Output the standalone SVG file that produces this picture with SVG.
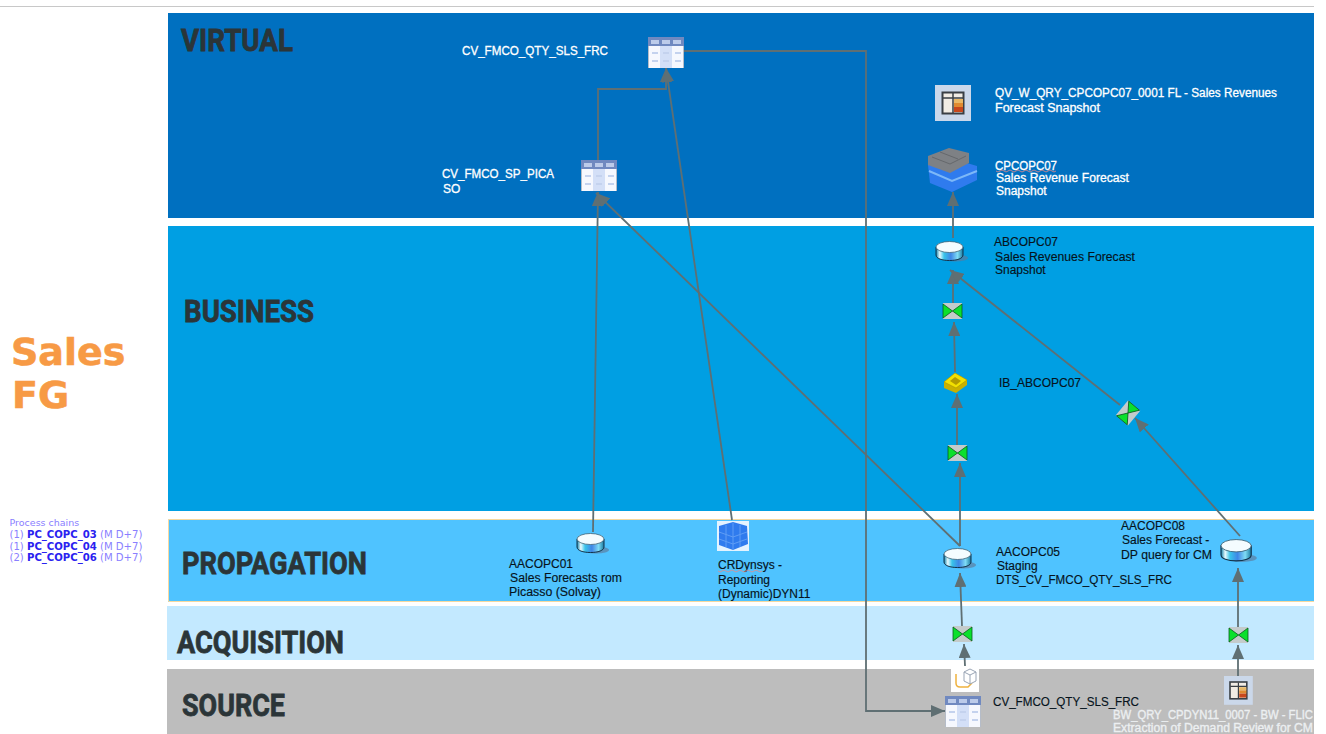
<svg xmlns="http://www.w3.org/2000/svg" width="1326" height="734" viewBox="0 0 1326 734">
<style>
text{font-family:"Liberation Sans",Arial,sans-serif}
.w{font-size:12px;fill:#fff;stroke:#fff;stroke-width:.3}
.k{font-size:12px;fill:#06131c;stroke:#06131c;stroke-width:.15}
.s{font-size:12px;fill:#eceff1;stroke:#eceff1;stroke-width:.35}
.h{font-size:32px;font-weight:700;fill:#2b3538;font-family:"Roboto","Liberation Sans",sans-serif;stroke:#2b3538;stroke-width:.8}
.t{font-family:"DejaVu Sans",sans-serif;font-size:38px;font-weight:700;fill:#f79a45;stroke:#f79a45;stroke-width:.6}
.c{fill:none;stroke:#5f6f73;stroke-width:1.8}
.v{font-family:"DejaVu Sans",sans-serif;font-size:10.1px;fill:#8a80ff}
.b{font-weight:700;fill:#2a22f0}
.sq{fill:none;stroke:#e58a8a;stroke-width:.8}
</style>
<defs>
<marker id="a" viewBox="0 0 14 12" refX="14" refY="6" markerWidth="14" markerHeight="12" markerUnits="userSpaceOnUse" orient="auto"><path d="M0 0L14 6L0 12Z" fill="#5f6f73"/></marker>
<linearGradient id="cg" x1="0" x2="1" y1="0" y2="0"><stop offset="0" stop-color="#0e7fa8"/><stop offset=".14" stop-color="#e8fbff"/><stop offset=".3" stop-color="#38c4ea"/><stop offset=".55" stop-color="#3f86e6"/><stop offset=".8" stop-color="#7fdcf5"/><stop offset="1" stop-color="#18799f"/></linearGradient>
<g id="tbl"><rect x="0" y="0" width="36" height="31" fill="#f6f8fe"/><rect x="0" y="0" width="36" height="9" fill="#7089c0"/><rect x="3" y="3" width="8" height="4" fill="#bccbea"/><rect x="14" y="3" width="8" height="4" fill="#bccbea"/><rect x="25" y="3" width="8" height="4" fill="#bccbea"/><rect x="12" y="9" width="12" height="22" fill="#d3dff7"/><path d="M.5 9V31M35.500 9V31" stroke="#b5bcc8"/><path d="M4 16H10M15 16H21M27 16H33M4 24H10M15 24H21M27 24H33" stroke="#c4d2ee" stroke-width="2"/></g>
<g id="cyl"><ellipse cx="19" cy="17" rx="13" ry="3.500" fill="#5f7a9a" opacity=".65"/><path d="M0 6V14C0 17.500 6 19.500 13.500 19.500S27 17.500 27 14V6Z" fill="url(#cg)" stroke="#12324a"/><ellipse cx="13.500" cy="6" rx="13.500" ry="5.500" fill="#f4fcff" stroke="#3d6377" stroke-width=".8"/></g>
<g id="tr"><rect x="0" y="0" width="19" height="16" fill="#c4cbcb"/><path d="M0 1L9.500 8L0 15ZM19 1L9.500 8L19 15Z" fill="#0be02c" stroke="#0a5a20" stroke-width=".8"/></g>
<g id="qry"><rect x="0" y="0" width="36" height="36" fill="#cbd8ea"/><rect x="7.500" y="7.500" width="21" height="21" fill="#f1ece4" stroke="#3a3f44" stroke-width="2"/><path d="M18 8V28M8 13H28" stroke="#3a3f44" stroke-width="1.500"/><rect x="19" y="14" width="9" height="4" fill="#e9b866"/><rect x="19" y="18" width="9" height="4" fill="#e08a30"/><rect x="19" y="22" width="9" height="5" fill="#c8471c"/></g>
</defs>

<rect width="1326" height="734" fill="#fff"/>
<rect x="0" y="6" width="1314" height="1" fill="#c8c8c8"/>
<rect x="168" y="13" width="1146" height="205" fill="#0070c0"/>
<rect x="168" y="226" width="1146" height="285" fill="#009fe3"/>
<rect x="168" y="519.500" width="1146" height="82.500" fill="#4fc3ff"/>
<path d="M1314 519.500H168.500V601.500H1314" fill="none" stroke="#f6d9a0"/>
<rect x="167" y="606" width="1147" height="54" fill="#c3e9ff"/>
<rect x="167" y="669" width="1147" height="65" fill="#bdbdbd"/>

<text class="h" x="181" y="51" textLength="112" lengthAdjust="spacingAndGlyphs">VIRTUAL</text>
<text class="h" x="184" y="322" textLength="130" lengthAdjust="spacingAndGlyphs">BUSINESS</text>
<text class="h" x="182" y="574" textLength="185" lengthAdjust="spacingAndGlyphs">PROPAGATION</text>
<text class="h" x="177" y="653" textLength="167" lengthAdjust="spacingAndGlyphs">ACQUISITION</text>
<text class="h" x="182" y="716" textLength="103" lengthAdjust="spacingAndGlyphs">SOURCE</text>

<g id="title"><text class="t" x="11" y="365">Sales</text><text class="t" x="12" y="408">FG</text></g>
<g id="process-chains">
<text class="v" x="9.500" y="526" style="font-size:9.500px">Process chains</text>
<text class="v" x="9.500" y="538">(1) <tspan class="b">PC_COPC_03</tspan> (M D+7)</text>
<text class="v" x="9.500" y="550">(1) <tspan class="b">PC_COPC_04</tspan> (M D+7)</text>
<text class="v" x="9.500" y="561">(2) <tspan class="b">PC_COPC_06</tspan> (M D+7)</text>
</g>

<g id="connectors">
<path class="c" marker-end="url(#a)" d="M684 51H866V711H945"/>
<path class="c" marker-end="url(#a)" d="M598 160V89H666V68"/>
<path class="c" marker-end="url(#a)" d="M732 520L666 68"/>
<path class="c" marker-end="url(#a)" d="M593 532L598 192"/>
<path class="c" marker-end="url(#a)" d="M960 546L596 193"/>
<path class="c" marker-end="url(#a)" d="M953 238V192"/>
<path class="c" marker-end="url(#a)" d="M953 303V270"/>
<path class="c" marker-end="url(#a)" d="M955 372L954 322"/>
<path class="c" marker-end="url(#a)" d="M957 445L957 394"/>
<path class="c" marker-end="url(#a)" d="M960 546V463"/>
<path class="c" marker-end="url(#a)" d="M1120 405L950 270"/>
<path class="c" marker-end="url(#a)" d="M1240 536L1135 418"/>
<path class="c" marker-end="url(#a)" d="M962 626L960 573"/>
<path class="c" marker-end="url(#a)" d="M965 666L964 644"/>
<path class="c" marker-end="url(#a)" d="M1238 627V568"/>
<path class="c" marker-end="url(#a)" d="M1238 676V645"/>
</g>

<g id="cv-qty-virtual"><use href="#tbl" x="648" y="37"/><text class="w" x="462" y="55" textLength="146" lengthAdjust="spacingAndGlyphs">CV_FMCO_QTY_SLS_FRC</text></g>
<g id="cv-sp-picasso"><use href="#tbl" x="581" y="160"/><text class="w" x="442" y="178" textLength="112" lengthAdjust="spacingAndGlyphs">CV_FMCO_SP_PICA</text><text class="w" x="443" y="193">SO</text></g>
<g id="qv-query"><use href="#qry" x="935" y="85"/><text class="w" x="995" y="97" textLength="282" lengthAdjust="spacingAndGlyphs">QV_W_QRY_CPCOPC07_0001 FL - Sales Revenues</text><text class="w" x="995" y="112" textLength="105" lengthAdjust="spacingAndGlyphs">Forecast Snapshot</text></g>
<g id="cpcopc07">
<path d="M928 165L950 158L977 166V180L952 192L930 183Z" fill="#2f7bee"/><path d="M929 171L952 181L977 171" stroke="#7db8f8" fill="none" stroke-width="2"/>
<path d="M928 156L949 148L969 153V163L950 173L928 165Z" fill="#7e8185"/><path d="M932 157L950 164L966 156M940 152L958 159" stroke="#65686c" fill="none"/>
<text class="w" x="995" y="170" textLength="62" lengthAdjust="spacingAndGlyphs">CPCOPC07</text><path class="sq" d="M996 171q2 2 4 0t4 0t4 0t4 0t4 0t4 0t4 0t4 0t4 0t4 0t4 0t4 0t4 0t4 0t4 0"/><text class="w" x="996" y="182" textLength="133" lengthAdjust="spacingAndGlyphs">Sales Revenue Forecast</text><text class="w" x="996" y="195">Snapshot</text></g>
<g id="abcopc07"><use href="#cyl" x="936" y="241"/><text class="k" x="994" y="246">ABCOPC07</text><text class="k" x="995" y="261" textLength="140" lengthAdjust="spacingAndGlyphs">Sales Revenues Forecast</text><text class="k" x="995" y="274">Snapshot</text></g>
<g id="tr-1"><use href="#tr" x="943" y="303"/></g>
<g id="ib-abcopc07"><path d="M944 382L955 373L967 380V385L956 393L944 388Z" fill="#c9b000"/><path d="M944 382L955 373L967 380L956 388Z" fill="#f2e000" stroke="#a89400" stroke-width=".6"/><path d="M950 381L955 377L961 381L956 385Z" fill="#b39b00"/><text class="k" x="999" y="387">IB_ABCOPC07</text></g>
<g id="tr-2"><use href="#tr" x="948" y="445"/></g>
<g id="tr-3"><use href="#tr" transform="rotate(-50 1128 413)" x="1118.500" y="405"/></g>
<g id="aacopc01"><use href="#cyl" x="577" y="533"/><text class="k" x="509" y="568">AACOPC01</text><text class="k" x="510" y="582" textLength="112" lengthAdjust="spacingAndGlyphs">Sales Forecasts rom</text><text class="k" x="509" y="596" textLength="92" lengthAdjust="spacingAndGlyphs">Picasso (Solvay)</text></g>
<g id="crdynsys"><rect x="717" y="521" width="32" height="30" fill="#e4f3ff"/><path d="M719 526L733 522L747 526L748 544L733 550L719 545Z" fill="#2f7bee"/><path d="M719 532L733 537L747 532M719 539L733 544L747 539M733 523V550M726 525V547M740 525V547" stroke="#5f9df5" fill="none"/><text class="k" x="718" y="569">CRDynsys -</text><path class="sq" d="M718 571q2 2 4 0t4 0t4 0t4 0t4 0t4 0t4 0t4 0t4 0t4 0t4 0"/><text class="k" x="718" y="584">Reporting</text><text class="k" x="718" y="598">(Dynamic)DYN11</text></g>
<g id="aacopc05"><use href="#cyl" x="944" y="548"/><text class="k" x="996" y="556">AACOPC05</text><text class="k" x="997" y="570">Staging</text><text class="k" x="996" y="584" textLength="176" lengthAdjust="spacingAndGlyphs">DTS_CV_FMCO_QTY_SLS_FRC</text></g>
<g id="aacopc08"><use href="#cyl" transform="translate(1221 539) scale(1.120)"/><text class="k" x="1121" y="530">AACOPC08</text><text class="k" x="1122" y="544">Sales Forecast -</text><text class="k" x="1121" y="559" textLength="91" lengthAdjust="spacingAndGlyphs">DP query for CM</text></g>
<g id="tr-4"><use href="#tr" x="953" y="626"/></g>
<g id="tr-5"><use href="#tr" x="1229" y="627"/></g>
<g id="source-icon"><rect x="951" y="667" width="28" height="25" fill="#fff"/><path d="M956 674V683Q956 687 960 687H968L972 683" fill="none" stroke="#efb23f" stroke-width="1.500"/><path d="M964 672L970 669L976 672V681L970 684L964 681ZM964 672L970 675L976 672M970 675V684" fill="#fff" stroke="#9aa5b5"/></g>
<g id="cv-qty-source"><use href="#tbl" x="945" y="696"/><text class="k" x="993" y="706" textLength="146" lengthAdjust="spacingAndGlyphs">CV_FMCO_QTY_SLS_FRC</text></g>
<g id="bw-query"><use href="#qry" transform="translate(1224 676) scale(.8)"/><text class="s" x="1113" y="719" textLength="200" lengthAdjust="spacingAndGlyphs">BW_QRY_CPDYN11_0007 - BW - FLIC</text><text class="s" x="1113" y="732" textLength="200" lengthAdjust="spacingAndGlyphs">Extraction of Demand Review for CM</text></g>
</svg>
